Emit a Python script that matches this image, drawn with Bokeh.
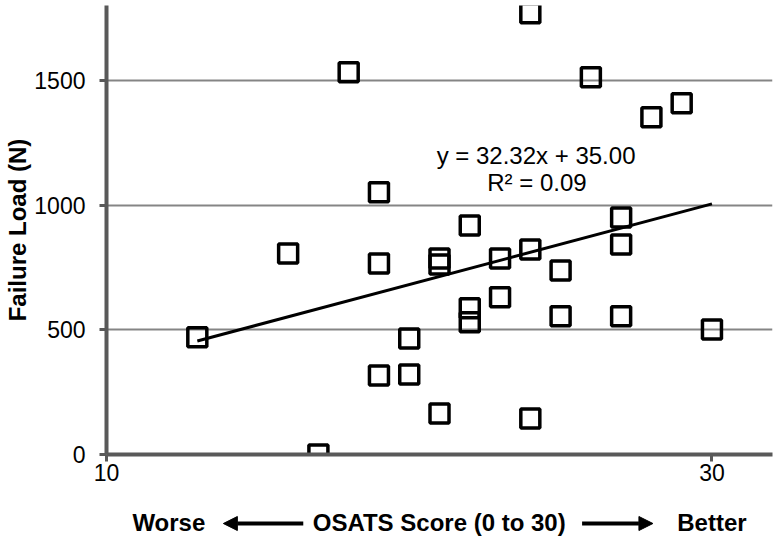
from bokeh.plotting import figure
from bokeh.layouts import column
from bokeh.models import Range1d, FixedTicker, Label, Arrow, NormalHead, ColumnDataSource
from bokeh.embed import file_html
from bokeh.resources import INLINE

# OSATS score (x) and failure load in N (y)
osats_score = [13, 16, 17, 18, 19, 19, 19, 20, 20, 21, 21, 21, 22, 22, 22,
               23, 23, 24, 24, 24, 25, 25, 26, 27, 27, 27, 28, 29, 30]
failure_load = [470, 806, 0, 1532, 1051, 766, 317, 465, 321, 164, 786, 762, 918, 586, 530,
                630, 786, 822, 144, 1769, 738, 554, 1512, 950, 842, 554, 1352, 1408, 501]

slope = 32.32
intercept = 35.00
r_squared = 0.09

x_ticks = [10, 30]
y_ticks = [0, 500, 1000, 1500]

FONT = "Liberation Sans"
W = 774
H_TOP = 494
H_BOT = 42

p = figure(width=W, height=H_TOP, output_backend="svg", toolbar_location=None,
           x_range=Range1d(10, 32), y_range=Range1d(0, 1800),
           min_border_left=106, min_border_right=2, min_border_top=5, min_border_bottom=40)
p.outline_line_color = None
p.background_fill_color = "white"

p.xgrid.visible = False
p.ygrid.ticker = FixedTicker(ticks=y_ticks)
p.ygrid.grid_line_color = "#858585"
p.ygrid.grid_line_width = 2

p.xaxis.ticker = FixedTicker(ticks=x_ticks)
p.yaxis.ticker = FixedTicker(ticks=y_ticks)
p.axis.axis_line_color = "#595959"
p.axis.axis_line_width = 4
p.axis.major_tick_line_color = "#595959"
p.axis.major_tick_line_width = 3
p.axis.major_tick_out = 7
p.axis.major_tick_in = 0
p.axis.minor_tick_line_color = None
p.axis.major_label_text_font = FONT
p.axis.major_label_text_font_size = "23px"
p.axis.major_label_text_color = "black"
p.xaxis.major_label_standoff = 2
p.yaxis.major_label_standoff = 14

p.yaxis.axis_label = "Failure Load (N)"
p.yaxis.axis_label_text_font = FONT
p.yaxis.axis_label_text_font_size = "24px"
p.yaxis.axis_label_text_font_style = "bold"
p.yaxis.axis_label_text_color = "black"
p.yaxis.axis_label_standoff = 0

# trend line
x0, x1 = min(osats_score), max(osats_score)
trend = ColumnDataSource(dict(x=[x0, x1], y=[slope * x0 + intercept, slope * x1 + intercept]))
p.line("x", "y", source=trend, line_color="black", line_width=3)

# data points
src = ColumnDataSource(dict(x=osats_score, y=failure_load))
p.scatter("x", "y", source=src, marker="square", size=19, line_color="black",
          line_width=3.5, fill_alpha=0)

# equation
p.add_layout(Label(x=24.19, y=1199, text=f"y = {slope:.2f}x + {intercept:.2f}",
                   text_font=FONT, text_font_size="24px", text_align="center",
                   text_baseline="middle", text_color="black"))
p.add_layout(Label(x=24.22, y=1089, text=f"R\u00b2 = {r_squared:.2f}",
                   text_font=FONT, text_font_size="24px", text_align="center",
                   text_baseline="middle", text_color="black"))

# bottom strip with the x-axis title and arrows
p2 = figure(width=W, height=H_BOT, output_backend="svg", toolbar_location=None,
            x_range=p.x_range, y_range=Range1d(0, H_BOT),
            x_axis_type=None, y_axis_type=None,
            min_border_left=106, min_border_right=2, min_border_top=0, min_border_bottom=0)
p2.outline_line_color = None
p2.grid.visible = False

for xx, t in [(12.06, "Worse"), (20.99, "OSATS Score (0 to 30)"), (30.0, "Better")]:
    p2.add_layout(Label(x=xx, y=14, text=t, text_font=FONT, text_font_size="24px",
                        text_font_style="bold", text_align="center", text_baseline="middle",
                        text_color="black"))

for xs, xe in [(16.5, 13.86), (25.71, 28.05)]:
    p2.add_layout(Arrow(end=NormalHead(size=14, fill_color="black", line_color="black"),
                        x_start=xs, y_start=13, x_end=xe, y_end=13,
                        line_width=4, line_color="black"))

layout = column(p, p2, spacing=0)
open("out.html", "w").write(file_html(layout, INLINE))
